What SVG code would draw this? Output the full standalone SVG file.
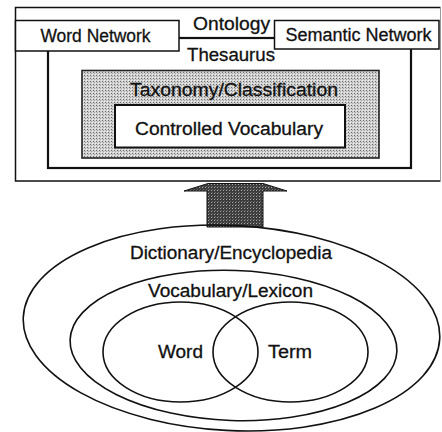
<svg xmlns="http://www.w3.org/2000/svg" width="442" height="432" viewBox="0 0 442 432">
  <defs>
    <!-- light screen tone for the classification layer -->
    <pattern id="tone-light" width="3" height="3" patternUnits="userSpaceOnUse">
      <rect width="3" height="3" fill="#d2d2d2"/>
      <rect x="0" y="0" width="1" height="1" fill="#6a6a6a"/>
      <rect x="1" y="1" width="1" height="1" fill="#a4a4a4"/>
      <rect x="2" y="2" width="1" height="1" fill="#efefef"/>
    </pattern>
    <!-- dark screen tone for the block arrow -->
    <pattern id="tone-dark" width="3" height="3" patternUnits="userSpaceOnUse">
      <rect width="3" height="3" fill="#3c3c3c"/>
      <rect x="1" y="1" width="1" height="1" fill="#a8a8a8"/>
      <rect x="2" y="0" width="1" height="1" fill="#6a6a6a"/>
    </pattern>
  </defs>
  <style>
    .box { fill: #ffffff; stroke: #111111; stroke-width: 1.5; }
    .thick { fill: none; stroke: #111111; stroke-width: 2.2; }
    .ring { fill: none; stroke: #111111; stroke-width: 1.6; }
    .lbl { font-family: "Liberation Sans", Arial, sans-serif; font-size: 18px; fill: #111111; stroke: #111111; stroke-width: 0.3; text-anchor: middle; }
  </style>

  <rect width="442" height="432" fill="#ffffff"/>

  <!-- upper stack of knowledge organisation layers -->
  <g id="ontology">
    <path class="box" d="M440.5 7.5 H15.5 V181 H440.5"/>
    <line x1="440.5" y1="7.5" x2="440.5" y2="181" stroke="#9a9a9a" stroke-width="1"/>
    <text class="lbl" x="231.5" y="30" font-size="19" textLength="77" lengthAdjust="spacingAndGlyphs">Ontology</text>
  </g>

  <g id="thesaurus">
    <rect class="thick" x="48" y="38" width="363" height="130"/>
    <text class="lbl" x="231" y="61" font-size="19" textLength="88" lengthAdjust="spacingAndGlyphs">Thesaurus</text>
  </g>

  <g id="word-network">
    <rect class="box" x="15.5" y="20.5" width="163.5" height="30.5"/>
    <text class="lbl" x="95.5" y="42" textLength="110" lengthAdjust="spacingAndGlyphs">Word Network</text>
  </g>

  <g id="semantic-network">
    <rect class="box" x="274.5" y="20.5" width="164.5" height="28.5"/>
    <text class="lbl" x="358.5" y="41" textLength="146" lengthAdjust="spacingAndGlyphs">Semantic Network</text>
  </g>

  <g id="taxonomy">
    <rect x="82" y="70.5" width="297" height="87.5" fill="url(#tone-light)" stroke="#222222" stroke-width="1.6"/>
    <text class="lbl" x="234" y="96" font-size="19" textLength="208" lengthAdjust="spacingAndGlyphs">Taxonomy/Classification</text>
  </g>

  <g id="controlled-vocabulary">
    <rect x="115" y="105" width="230" height="42.5" fill="#ffffff" stroke="#111111" stroke-width="2"/>
    <text class="lbl" x="229" y="135" font-size="19" textLength="188" lengthAdjust="spacingAndGlyphs">Controlled Vocabulary</text>
  </g>

  <!-- block arrow leading from the lexical layers up to the structured ones -->
  <g id="connectors">
    <polygon points="208,183.5 263,183.5 287,191 263,191 263,227 207,227 207,191 184,191"
             fill="url(#tone-dark)" stroke="#111111" stroke-width="1"/>
  </g>

  <!-- lower nested lexical resources -->
  <g id="dictionary">
    <ellipse class="ring" cx="231.5" cy="328" rx="208.5" ry="102.5" transform="rotate(3 231.5 328)"/>
    <text class="lbl" x="231" y="259" font-size="19" textLength="202" lengthAdjust="spacingAndGlyphs">Dictionary/Encyclopedia</text>
  </g>

  <g id="vocabulary">
    <ellipse class="ring" cx="233.5" cy="345.5" rx="163.5" ry="75" transform="rotate(2 233.5 345.5)"/>
    <text class="lbl" x="230.5" y="297" font-size="19" textLength="165" lengthAdjust="spacingAndGlyphs">Vocabulary/Lexicon</text>
  </g>

  <g id="word">
    <ellipse class="ring" cx="180.5" cy="352" rx="77.5" ry="50"/>
    <text class="lbl" x="180.5" y="358" font-size="19" textLength="45" lengthAdjust="spacingAndGlyphs">Word</text>
  </g>

  <g id="term">
    <ellipse class="ring" cx="290.5" cy="352" rx="77.5" ry="50"/>
    <text class="lbl" x="290" y="358" font-size="19" textLength="44" lengthAdjust="spacingAndGlyphs">Term</text>
  </g>
</svg>
